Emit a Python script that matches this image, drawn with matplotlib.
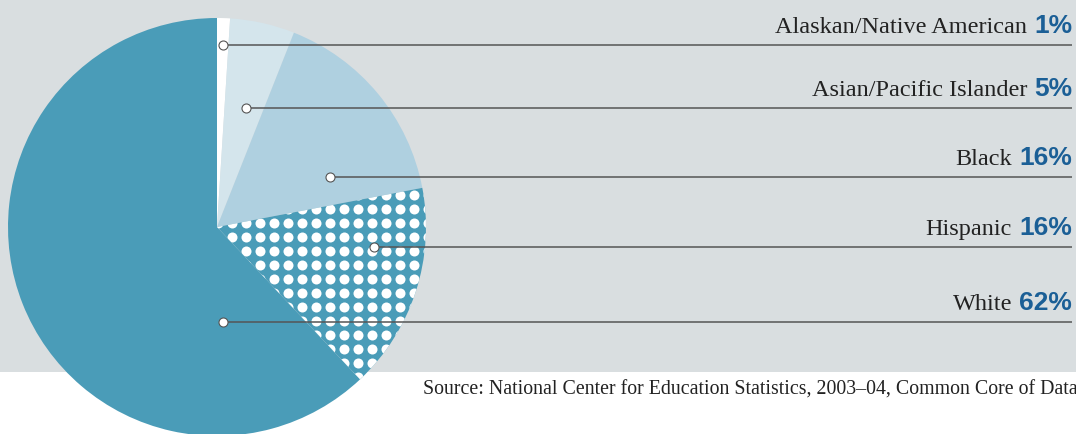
import numpy as np
import matplotlib.pyplot as plt
from matplotlib.patches import Rectangle

groups = ["Alaskan/Native American", "Asian/Pacific Islander", "Black", "Hispanic", "White"]
shares = [1, 5, 16, 16, 62]
pct_labels = ["1%", "5%", "16%", "16%", "62%"]
source = "Source: National Center for Education Statistics, 2003\u201304, Common Core of Data"

colors = ["#ffffff", "#d4e5ec", "#afd0e0", "#4a9cb8", "#4a9cb8"]
# label rows (pixel layout, measured from the top)
label_y = [45, 108, 177, 247, 322]
dot_x = [223, 246, 330, 374, 223]

W, H = 1076, 434
fig = plt.figure(figsize=(W / 100, H / 100), dpi=100)
ax = fig.add_axes([0, 0, 1, 1])

# grey panel behind the chart
ax.add_patch(Rectangle((0, H - 372), W, 372, color="#d9dee0", lw=0, zorder=0))

wedges, _ = ax.pie(shares, colors=colors, startangle=90, counterclock=False,
                   center=(217, H - 227), radius=209, frame=True,
                   wedgeprops=dict(linewidth=0, zorder=1))

# white dot pattern on the Hispanic slice
gx, gy = np.meshgrid(np.arange(231.7 - 14 * 4, 450, 14), np.arange(222.7 - 14 * 4, 450, 14))
dots = ax.scatter(gx.ravel(), H - gy.ravel(), s=52, color="white", linewidths=0, zorder=2)
dots.set_clip_path(wedges[3])

ax.set_xlim(0, W)
ax.set_ylim(0, H)
ax.set_aspect("equal")
ax.axis("off")

renderer = fig.canvas.get_renderer()
x_end = 1072
for name, pct, y, dx in zip(groups, pct_labels, label_y, dot_x):
    yy = H - y
    ax.plot([dx, x_end], [yy, yy], color="#555555", lw=1.1, zorder=4, solid_capstyle="butt")
    ax.plot(dx, yy, "o", ms=6.5, mfc="white", mec="#555555", mew=0.8, zorder=5)
    t = ax.text(x_end, yy + 12, pct, ha="right", va="baseline", fontsize=19,
                fontweight="bold", family="Liberation Sans", color="#1b5f96")
    w = t.get_window_extent(renderer).width
    ax.text(x_end - w - 7, yy + 12, name, ha="right", va="baseline", fontsize=17.5,
            family="Liberation Serif", color="#222222")

ax.text(1078, H - 395, source, ha="right", va="baseline", fontsize=14.3,
        family="Liberation Serif", color="#222222")

fig.savefig("out.png", dpi=100, facecolor="white")
